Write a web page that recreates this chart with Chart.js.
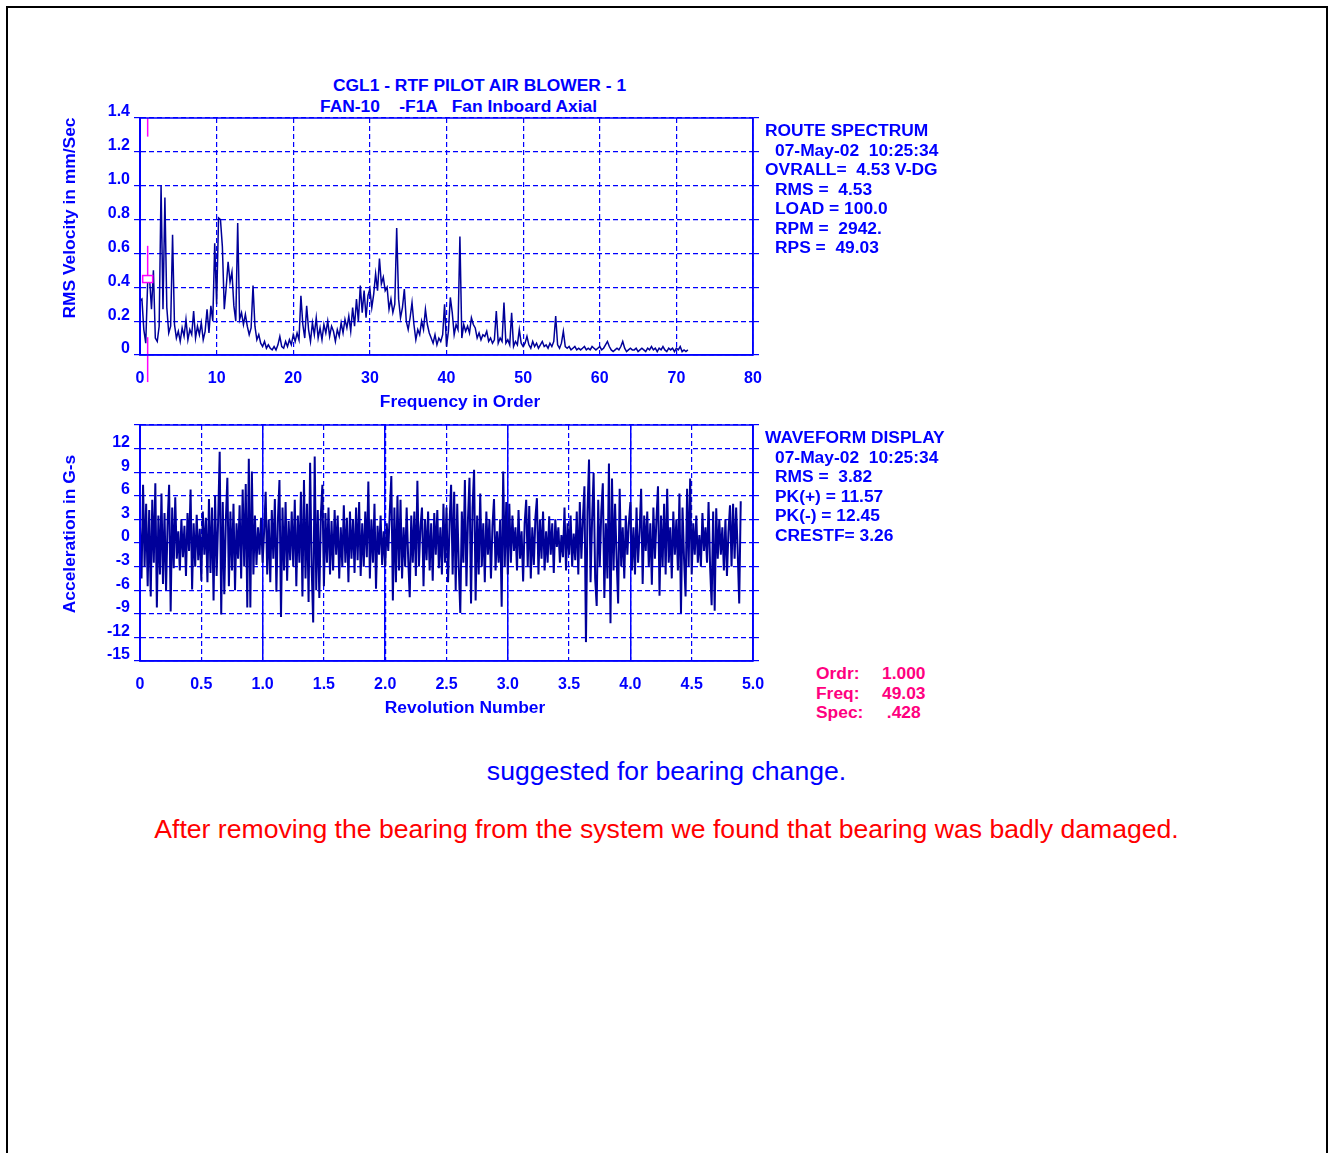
<!DOCTYPE html>
<html>
<head>
<meta charset="utf-8">
<script src="https://cdn.jsdelivr.net/npm/chart.js@4.4.1/dist/chart.umd.min.js"></script>
<style>
  body { margin:0; background:#fff; font-family:"Liberation Sans", Arial, sans-serif; }
  #page { position:relative; width:1333px; height:1153px; overflow:hidden; }
  #frame { position:absolute; left:6px; top:6px; width:1318px; height:1170px; border:2px solid #000; }
  canvas { position:absolute; left:0; }
  .txt { position:absolute; font-weight:bold; font-size:17.4px; line-height:19.5px; color:#0000ff; }
  .txt div { white-space:pre; }
  .ind { padding-left:10px; }
  .pink { color:#ff0080; }
  .note { position:absolute; left:0; width:1333px; text-align:center; font-size:26.6px; line-height:30px; }
</style>
</head>
<body>
<div id="page">
  <div id="frame"></div>

  <div class="txt" style="left:333px;top:76px;"><div>CGL1 - RTF PILOT AIR BLOWER - 1</div></div>
  <div class="txt" style="left:320px;top:97px;"><div>FAN-10    -F1A   Fan Inboard Axial</div></div>

  <canvas id="specChart" width="800" height="320" style="top:100px;"></canvas>
  <canvas id="waveChart" width="800" height="320" style="top:400px;"></canvas>

  <div class="txt" style="left:765px;top:121px;"><div>ROUTE SPECTRUM</div><div class="ind">07-May-02  10:25:34</div><div>OVRALL=  4.53 V-DG</div><div class="ind">RMS =  4.53</div><div class="ind">LOAD = 100.0</div><div class="ind">RPM =  2942.</div><div class="ind">RPS =  49.03</div></div>

  <div class="txt" style="left:765px;top:428px;"><div>WAVEFORM DISPLAY</div><div class="ind">07-May-02  10:25:34</div><div class="ind">RMS =  3.82</div><div class="ind">PK(+) = 11.57</div><div class="ind">PK(-) = 12.45</div><div class="ind">CRESTF= 3.26</div></div>

  <div class="txt pink" style="left:816px;top:664px;"><div>Ordr:</div><div>Freq:</div><div>Spec:</div></div>
  <div class="txt pink" style="left:882px;top:664px;"><div>1.000</div><div>49.03</div><div> .428</div></div>

  <div class="note" style="top:756px;color:#0000ff;">suggested for bearing change.</div>
  <div class="note" style="top:814px;color:#ff0000;">After removing the bearing from the system we found that bearing was badly damaged.</div>
</div>

<script>
// route spectrum, RMS velocity (mm/s), one value every 0.25 order starting at 0
const ORDER_STEP = 0.25;
const spectrum = [
  0.32,0.33,0.15,0.07,0.43,0.45,0.27,0.50,0.10,0.08,0.17,1.00,0.27,0.93,0.28,0.13,0.17,0.71,0.18,0.10,
  0.14,0.08,0.16,0.11,0.21,0.09,0.15,0.12,0.26,0.10,0.17,0.12,0.19,0.09,0.14,0.27,0.13,0.29,0.20,0.66,
  0.30,0.81,0.80,0.64,0.27,0.40,0.55,0.43,0.49,0.29,0.20,0.78,0.21,0.25,0.18,0.24,0.17,0.12,0.16,0.41,
  0.17,0.09,0.12,0.07,0.05,0.08,0.04,0.06,0.04,0.03,0.05,0.03,0.06,0.11,0.05,0.04,0.08,0.05,0.09,0.06,
  0.12,0.08,0.13,0.09,0.35,0.18,0.10,0.29,0.15,0.08,0.19,0.12,0.22,0.10,0.16,0.09,0.18,0.13,0.20,0.11,
  0.17,0.14,0.08,0.15,0.11,0.19,0.13,0.21,0.16,0.23,0.14,0.28,0.17,0.33,0.20,0.41,0.25,0.38,0.22,0.35,
  0.39,0.28,0.36,0.48,0.38,0.57,0.42,0.46,0.38,0.40,0.27,0.33,0.25,0.30,0.75,0.33,0.22,0.28,0.39,0.20,
  0.15,0.22,0.31,0.18,0.09,0.15,0.12,0.20,0.15,0.27,0.18,0.13,0.10,0.07,0.12,0.06,0.10,0.08,0.12,0.30,
  0.05,0.14,0.34,0.25,0.12,0.18,0.15,0.70,0.10,0.18,0.14,0.17,0.13,0.22,0.18,0.16,0.10,0.13,0.09,0.12,
  0.11,0.14,0.08,0.10,0.07,0.09,0.26,0.07,0.10,0.08,0.31,0.07,0.09,0.06,0.25,0.05,0.08,0.06,0.15,0.07,
  0.05,0.07,0.11,0.06,0.04,0.08,0.05,0.07,0.04,0.06,0.08,0.05,0.06,0.04,0.07,0.05,0.08,0.23,0.06,0.04,
  0.07,0.14,0.05,0.04,0.05,0.03,0.04,0.05,0.03,0.04,0.03,0.04,0.05,0.03,0.04,0.03,0.05,0.04,0.03,0.04,
  0.05,0.03,0.04,0.06,0.08,0.05,0.03,0.02,0.03,0.04,0.03,0.05,0.08,0.04,0.02,0.03,0.04,0.03,0.03,0.04,
  0.02,0.03,0.04,0.03,0.02,0.04,0.03,0.05,0.03,0.04,0.02,0.04,0.03,0.05,0.03,0.02,0.04,0.03,0.04,0.02,
  0.04,0.03,0.05,0.02,0.03,0.02,0.03
];

// waveform, acceleration (G-s), one sample every 0.0125 revolution
const REV_STEP = 0.0125;
const waveform = [
  2.0,-4.5,7.4,-3.0,5.0,-5.5,4.2,-6.8,5.5,-2.5,7.6,-8.2,3.5,-4.0,6.3,-5.2,3.8,-6.0,2.5,7.4,
  -8.7,4.5,-3.2,5.8,-2.0,1.5,-3.5,3.0,-1.8,2.2,-4.2,3.8,-1.0,6.8,-5.9,2.5,-3.0,3.6,-2.2,1.8,
  -4.8,4.0,-1.5,3.2,-5.0,5.6,-3.8,4.5,-7.3,6.0,-4.2,3.0,11.6,-9.1,5.2,-6.5,2.8,8.3,-5.5,4.0,
  -3.5,5.0,-6.0,2.5,-2.0,4.8,-4.5,6.8,-3.0,7.5,-8.2,10.7,-8.2,9.1,-4.0,3.5,-2.8,2.0,-1.5,3.2,
  -2.5,1.5,6.5,-4.0,3.0,-5.0,4.2,-2.0,5.6,-6.2,3.0,8.0,-9.4,4.5,-3.5,5.2,-4.8,2.8,-2.2,4.0,
  -3.0,5.5,-5.5,3.5,-2.5,6.5,-6.8,8.0,-4.5,5.0,-7.5,10.2,-3.0,-10.1,11.0,-6.0,4.2,-7.0,3.5,7.4,
  -5.5,3.8,-2.5,4.5,-4.0,2.8,-3.5,4.2,-1.5,3.5,-4.5,2.0,-3.0,4.8,-2.5,3.2,-5.0,4.0,-2.0,3.0,
  -3.8,4.5,-2.2,5.2,-4.2,2.5,-3.0,4.0,-1.8,7.8,-4.5,3.0,-2.5,5.0,-5.8,2.2,-1.5,3.5,-2.8,1.5,
  -3.0,2.5,-1.0,4.0,8.5,-7.3,4.5,-5.0,6.0,-3.5,5.5,-4.5,2.0,-3.0,4.5,-2.0,-6.9,3.5,-2.5,4.0,
  -4.2,7.9,-3.0,2.0,4.5,-5.5,3.0,-2.2,4.0,-3.5,2.5,-4.8,3.8,-1.5,4.2,-3.2,2.0,-4.0,5.0,-2.5,
  4.5,-5.0,2.5,7.4,-4.0,6.5,-6.0,5.0,-3.0,-8.9,4.0,-2.5,8.0,-5.5,3.0,8.3,-7.7,4.5,9.3,-7.3,
  3.5,-4.0,6.3,-3.0,2.5,-5.0,4.0,-1.5,3.0,-4.5,2.2,5.6,-3.5,1.5,-2.5,3.0,-8.1,9.1,-3.0,5.2,
  -4.0,5.0,-2.5,3.5,-1.0,2.0,-3.5,4.2,-2.0,1.5,-4.9,2.5,5.5,-3.0,4.7,-4.5,2.0,-2.8,3.2,5.7,
  -4.0,3.0,-2.0,4.0,-3.5,1.5,-2.5,3.4,-1.5,2.5,-3.8,3.0,-0.5,2.0,-2.5,1.0,-1.8,4.5,-3.5,2.5,
  -1.5,3.5,-3.0,1.2,-2.2,4.0,-4.0,5.2,-2.0,3.0,7.2,-12.6,4.0,10.6,-5.0,3.0,8.9,-4.5,-8.0,5.5,
  -3.0,4.0,7.6,-7.0,2.5,-4.5,10.1,-10.2,8.2,-3.5,5.0,-2.0,-7.7,6.9,-3.0,2.0,-4.5,3.5,-1.5,2.5,
  5.2,-3.5,2.0,-4.0,4.5,-2.5,1.5,6.9,-5.2,3.5,-1.0,4.0,-3.0,2.5,-5.3,4.5,-2.0,3.0,7.2,-6.7,
  3.5,-3.0,5.0,-4.0,6.9,-2.5,2.0,-4.5,4.0,-1.5,3.0,-3.5,6.3,-8.9,4.5,-2.0,-6.8,6.9,-3.0,8.2,
  -4.0,2.5,-1.5,3.5,-2.5,1.0,-3.0,3.8,-1.0,2.0,-2.5,5.2,-3.0,-7.9,4.0,-8.6,4.4,-2.0,3.0,-1.5,
  2.0,-3.5,3.0,-4.2,1.5,4.8,-3.0,5.0,-2.0,4.5,-1.0,-7.7,5.3
];

// cursor at 1x order (value read on the spectrum)
const cursorOrder = 1.0;
const cursorValue = 0.428;

const BLUE = '#0000ff';
const NAVY = '#000099';
const FONT = "'Liberation Sans', Arial, sans-serif";

Chart.defaults.font.family = FONT;
Chart.defaults.color = BLUE;

// axis titles placed relative to the plot area, plus a solid frame round it
const axisTitles = {
  id: 'axisTitles',
  afterDraw(chart, args, opts) {
    const { ctx, chartArea: a } = chart;
    ctx.save();
    ctx.strokeStyle = BLUE;
    ctx.lineWidth = 1.5;
    ctx.strokeRect(a.left, a.top, a.right - a.left, a.bottom - a.top);
    ctx.fillStyle = BLUE;
    ctx.font = 'bold 17.4px ' + FONT;
    ctx.textAlign = 'center';
    ctx.textBaseline = 'middle';
    ctx.fillText(opts.x, a.left + opts.xdx, a.bottom + 47);
    ctx.translate(a.left - 70, a.top + opts.ydy);
    ctx.rotate(-Math.PI / 2);
    ctx.fillText(opts.y, 0, 0);
    ctx.restore();
  }
};

// magenta cursor line and marker on the spectrum
const cursorMark = {
  id: 'cursorMark',
  afterDatasetsDraw(chart) {
    const { ctx, scales: { x, y } } = chart;
    const px = x.getPixelForValue(cursorOrder);
    const seg = (v1, v2) => {
      ctx.beginPath();
      ctx.moveTo(px, y.getPixelForValue(v1));
      ctx.lineTo(px, y.getPixelForValue(v2));
      ctx.stroke();
    };
    ctx.save();
    ctx.strokeStyle = '#ff00ff';
    ctx.lineWidth = 1.5;
    seg(1.4, 1.29);
    seg(0.645, 0.47);
    seg(0.105, -0.16);
    const py = y.getPixelForValue(cursorValue);
    ctx.fillStyle = '#fff';
    ctx.fillRect(px - 5, py - 7, 10, 7);
    ctx.strokeRect(px - 5, py - 7, 10, 7);
    ctx.restore();
  }
};

function makeScales(xMin, xMax, xStep, xLabel, yMin, yMax, yStep, yLabel, xHeight) {
  const tickFont = { size: 16, weight: 'bold' };
  return {
    x: {
      type: 'linear', min: xMin, max: xMax,
      grid: { color: BLUE, lineWidth: 1.2, drawTicks: false },
      border: { color: BLUE, width: 1.5, dash: [5, 3] },
      ticks: { font: tickFont, color: BLUE, padding: 14, maxRotation: 0, autoSkip: false,
               stepSize: xStep, callback: xLabel },
      afterFit: s => { s.height = xHeight; }
    },
    y: {
      position: 'left', min: yMin, max: yMax,
      grid: { color: BLUE, lineWidth: 1.2, tickLength: 6, tickBorderDash: [] },
      border: { color: BLUE, width: 2, dash: [5, 3] },
      ticks: { font: tickFont, color: BLUE, padding: 4, labelOffset: -6, autoSkip: false,
               stepSize: yStep, callback: yLabel },
      afterFit: s => { s.width = 100; }
    },
    yR: {
      position: 'right', min: yMin, max: yMax,
      grid: { color: BLUE, drawOnChartArea: false, tickLength: 6, lineWidth: 1.2 },
      border: { color: BLUE, width: 1.5 },
      ticks: { display: false, stepSize: yStep },
      afterFit: s => { s.width = 47; }
    }
  };
}

// spectrum chart
const specScales = makeScales(
  0, 80, 10, v => String(v),
  0, 1.4, 0.2, v => v === 0 ? '0' : v.toFixed(1),
  65
);

new Chart(document.getElementById('specChart'), {
  type: 'line',
  data: {
    datasets: [{
      data: spectrum.map((v, i) => ({ x: i * ORDER_STEP, y: v })),
      borderColor: NAVY, borderWidth: 1.5, pointRadius: 0, tension: 0
    }]
  },
  options: {
    responsive: false, animation: false,
    layout: { padding: { top: 18, left: 40, right: 0, bottom: 0 } },
    plugins: {
      legend: { display: false }, tooltip: { enabled: false },
      axisTitles: { x: 'Frequency in Order', xdx: 320, y: 'RMS Velocity in mm/Sec', ydy: 100 }
    },
    scales: specScales
  },
  plugins: [axisTitles, cursorMark]
});

// waveform chart
const waveScales = makeScales(
  0, 5, 0.5, v => v === 0 ? '0' : v.toFixed(1),
  -15, 15, 3, v => v === 15 ? '' : String(v),
  59
);
// solid lines at every whole revolution
waveScales.xRev = {
  type: 'linear', position: 'top', min: 0, max: 5,
  grid: { color: BLUE, lineWidth: 1.5, drawTicks: false },
  border: { display: false },
  ticks: { display: false, stepSize: 1 },
  afterFit: s => { s.height = 0; }
};

new Chart(document.getElementById('waveChart'), {
  type: 'line',
  data: {
    datasets: [{
      data: waveform.map((v, i) => ({ x: i * REV_STEP, y: v })),
      borderColor: NAVY, borderWidth: 2, pointRadius: 0, tension: 0
    }]
  },
  options: {
    responsive: false, animation: false,
    layout: { padding: { top: 25, left: 40, right: 0, bottom: 0 } },
    plugins: {
      legend: { display: false }, tooltip: { enabled: false },
      axisTitles: { x: 'Revolution Number', xdx: 325, y: 'Acceleration in G-s', ydy: 109 }
    },
    scales: waveScales
  },
  plugins: [axisTitles]
});
</script>
</body>
</html>
